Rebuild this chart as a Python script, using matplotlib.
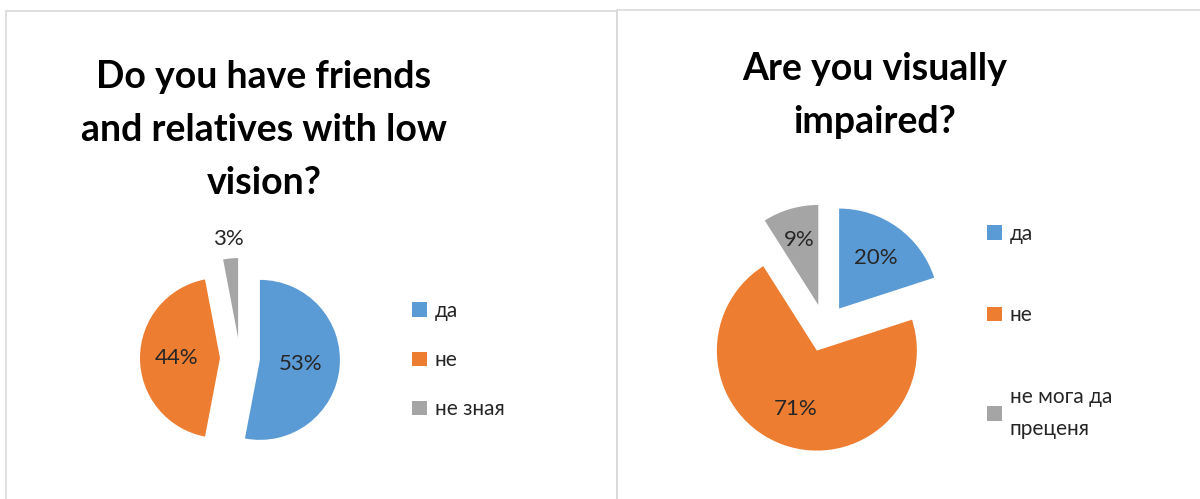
import matplotlib
matplotlib.use("Agg")
import numpy as np
import matplotlib.pyplot as plt
from matplotlib import font_manager
from matplotlib.patches import Rectangle

# survey answers
labels_friends = ["да", "не", "не зная"]
share_friends = [53, 44, 3]

labels_impaired = ["да", "не", "не мога да\nпреценя"]
share_impaired = [20, 71, 9]

title_friends = "Do you have friends\nand relatives with low\nvision?"
title_impaired = "Are you visually\nimpaired?"

colors = ["#5B9BD5", "#ED7D31", "#A5A5A5"]

W, H = 1200, 499
names = {f.name for f in font_manager.fontManager.ttflist}
font = "Lato" if "Lato" in names else "DejaVu Sans"
plt.rcParams["font.family"] = [font, "DejaVu Sans"]

fig = plt.figure(figsize=(W / 100, H / 100), dpi=100)

# chart frames
border = "#D9D9D9"
fig.add_artist(Rectangle((6 / W, -0.1), (617 - 6) / W, 1.1 - 11 / H,
                         transform=fig.transFigure, fill=False,
                         edgecolor=border, lw=1.2))
fig.add_artist(Rectangle((617 / W, -0.1), 0.6, 1.1 - 10 / H,
                         transform=fig.transFigure, fill=False,
                         edgecolor=border, lw=1.2))


def pie_axes(cx, cy, size=300):
    # square axes centred on pixel (cx, cy)
    return fig.add_axes([(cx - size / 2) / W, (H - cy - size / 2) / H,
                         size / W, size / H])


def draw_pie(ax, values, r, explode, dists, size=300):
    wedges, _ = ax.pie(values, colors=colors, startangle=90, counterclock=False,
                       explode=[explode] * len(values),
                       wedgeprops=dict(linewidth=0))
    # one data unit = r pixels
    lim = size / 2 / r
    ax.set_xlim(-lim, lim)
    ax.set_ylim(-lim, lim)
    ax.set_aspect("equal")
    ax.axis("off")
    for w, v, d in zip(wedges, values, dists):
        mid = np.deg2rad((w.theta1 + w.theta2) / 2)
        x = w.center[0] + d * w.r * np.cos(mid)
        y = w.center[1] + d * w.r * np.sin(mid)
        ax.text(x, y, f"{v}%", ha="center", va="center", fontsize=16,
                color="#262626")
    return wedges


ax1 = pie_axes(240, 358)
draw_pie(ax1, share_friends, 80, 0.25, [0.51, 0.54, 1.24])

ax2 = pie_axes(825, 328)
draw_pie(ax2, share_impaired, 100, 0.24, [0.62, 0.62, 0.68])

# baseline of the last title line
fig.text(264 / W, 1 - 194 / H, title_friends, ha="center", va="baseline",
         fontsize=27, fontweight="bold", linespacing=1.68)
fig.text(875 / W, 1 - 133 / H, title_impaired, ha="center", va="baseline",
         fontsize=27, fontweight="bold", linespacing=1.68)


def legend(labels, x, y, spacing):
    handles = [Rectangle((0, 0), 1, 1, facecolor=c, edgecolor="none")
               for c in colors]
    leg = fig.legend(handles, labels, loc="upper left",
                     bbox_to_anchor=(x / W, 1 - y / H), frameon=False,
                     fontsize=15, handlelength=0.7, handleheight=0.7,
                     handletextpad=0.4, labelspacing=spacing, borderpad=0,
                     borderaxespad=0, labelcolor="#262626")
    for t in leg.get_texts():
        t.set_linespacing(1.75)
    return leg


legend(labels_friends, 412, 301, 1.4)
legend(labels_impaired, 987, 224, 2.95)

fig.savefig("out.png", dpi=100, facecolor="white")
